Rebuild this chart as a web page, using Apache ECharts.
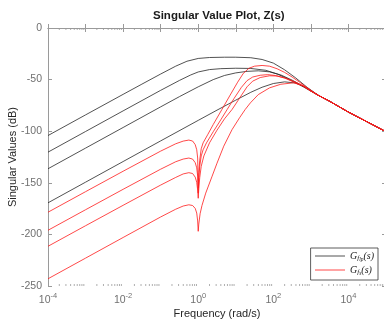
<!DOCTYPE html>
<html><head><meta charset="utf-8">
<script src="https://cdn.jsdelivr.net/npm/echarts@6/dist/echarts.min.js"></script>
<style>html,body{margin:0;padding:0;background:#fff}#c{width:384px;height:322px}</style>
</head><body><div id="c"></div>
<script>
// Data: log10(frequency) and singular value (dB)
const b1x = [-4,-3,-2,-1.5,-1,-0.6,-0.3,0,0.3,0.7,1.0,1.4,1.7,2.0,2.3,2.6,2.9,3.2,3.5,4,4.5,5];
const b1y = [-104.2,-84.2,-64.3,-54.4,-44.6,-37.0,-32.2,-29.5,-28.6,-28.3,-28.3,-28.8,-30.5,-34.0,-40.5,-48.5,-57.5,-65.3,-71,-81.5,-91,-100.5];
const b2x = [-4,-3,-2,-1,-0.5,-0.2,0,0.3,0.6,1.0,1.4,1.8,2.1,2.4,2.7,3.0,3.2,3.5,4,4.5,5];
const b2y = [-120.3,-100.3,-80.3,-60.4,-50.8,-45.5,-42.6,-40.3,-39.4,-39.0,-39.2,-41,-44.5,-49.5,-55,-61.2,-65.3,-71,-81.5,-91,-100.5];
const b3x = [-4,-3,-2,-1,-0.5,0,0.4,0.7,1.0,1.3,1.6,1.9,2.2,2.5,2.8,3.0,3.2,3.5,4,4.5,5];
const b3y = [-136.4,-116.4,-96.4,-76.4,-66.5,-57,-50,-46,-43.5,-42,-41.5,-42.5,-45.5,-50.5,-56.5,-61,-65.3,-71,-81.5,-91,-100.5];
const b4x = [-4,-3,-2,-1,0,0.5,1.0,1.4,1.7,2.0,2.3,2.6,2.9,3.2,3.5,4,4.5,5];
const b4y = [-169.4,-149.4,-129.4,-109.4,-89.5,-79.6,-69.9,-62.3,-57.4,-53.8,-52.2,-53.3,-58.3,-65.3,-71,-81.5,-91,-100.5];

const r1x = [-4,-3,-2,-1,-0.6,-0.4,-0.25,-0.15,-0.08,-0.04,-0.015,0,0.015,0.04,0.08,0.13,0.25,0.4,0.63,0.85,1.05,1.2,1.35,1.5,1.7,1.9,2.1,2.3,2.5,2.7,2.9,3.2,3.5,4,4.5,5];
const r1y = [-178.5,-158.6,-138.8,-119.3,-112.2,-109.6,-108.6,-109.5,-113,-118,-126,-155,-140,-128,-117,-111.3,-103.5,-93.5,-79,-65,-52.5,-44,-39,-37,-36.3,-37,-39.5,-43,-47.5,-52.5,-57.8,-65.3,-71,-81.5,-91,-100.5];
const r2x = [-4,-3,-2,-1,-0.6,-0.4,-0.25,-0.15,-0.08,-0.04,-0.015,0,0.015,0.04,0.08,0.13,0.22,0.4,0.6,0.77,0.95,1.15,1.3,1.45,1.65,1.85,2.05,2.3,2.55,2.8,3.0,3.2,3.5,4,4.5,5];
const r2y = [-196,-176.1,-156.3,-136.8,-129.6,-127,-126,-127,-130.5,-135.5,-143.5,-160,-146,-134,-124,-118,-111.3,-100.5,-89,-79,-68.5,-57.5,-51,-47.5,-45.8,-45.2,-46,-48.5,-52.5,-56.5,-61.2,-65.3,-71,-81.5,-91,-100.5];
const r3x = [-4,-3,-2,-1,-0.6,-0.4,-0.25,-0.15,-0.08,-0.04,-0.015,0,0.015,0.04,0.08,0.15,0.3,0.5,0.7,0.9,1.1,1.3,1.45,1.65,1.9,2.1,2.35,2.6,2.8,3.0,3.2,3.5,4,4.5,5];
const r3y = [-211.5,-191.6,-171.8,-152.2,-144.8,-141.4,-140.2,-141,-144.5,-149.5,-157,-165,-156,-145,-134,-124,-111.3,-99,-88,-79,-68,-57,-51.5,-48,-46.3,-46.5,-48.8,-52.5,-56.3,-61,-65.3,-71,-81.5,-91,-100.5];
const r4x = [-4,-3,-2,-1,-0.6,-0.4,-0.25,-0.15,-0.08,-0.04,-0.015,0,0.015,0.05,0.1,0.2,0.37,0.5,0.68,0.9,1.1,1.25,1.39,1.6,1.9,2.2,2.54,2.8,3.0,3.2,3.5,4,4.5,5];
const r4y = [-243,-223,-203,-183.1,-175.6,-172.5,-171.3,-172,-174.8,-179.3,-187,-197,-190,-180,-172,-160,-143.6,-131,-114.5,-98.5,-87,-79,-72.5,-64.5,-58,-54.5,-53.1,-56,-61,-65.3,-71,-81.5,-91,-100.5];

const yTicks = [-250,-200,-150,-100,-50,0];
const decades = [-4,-3,-2,-1,0,1,2,3,4];
const minorMult = [2,3,4,5,6,7,8,9];
const legendNames = ['Gflp','Gfs'];

function pts(xs, ys){ return xs.map((e,i)=>[Math.pow(10,e), ys[i]]); }
const minorData = [];
decades.forEach(d=>minorMult.forEach(m=>minorData.push([m*Math.pow(10,d), -250])));

const FONT = 'Liberation Sans';
const black = '#262626', red = '#ff1a1a';
function lineSeries(name, color, data){
  return {type:'line', name, data, symbol:'none', smooth:false, clip:true,
    lineStyle:{color, width:0.8}, itemStyle:{color}, emphasis:{disabled:true}};
}
const chart = echarts.init(document.getElementById('c'), null, {renderer:'canvas'});
const axisGrey = '#9a9a9a';
chart.setOption({
  animation:false,
  backgroundColor:'#fff',
  title:{text:'Singular Value Plot, Z(s)', left:148, top:5,
    textStyle:{fontFamily:FONT, fontSize:11.5, fontWeight:'bold', color:'#1a1a1a'}},
  grid:{left:48, right:-2, top:28, bottom:36, outerBoundsMode:'none', containLabel:false},
  legend:{data:legendNames, orient:'vertical', right:6, bottom:42, itemWidth:30, itemHeight:8, itemGap:2,
    padding:[3,4,3,4], borderColor:'#333', borderWidth:0.8, backgroundColor:'#fff',
    itemStyle:{opacity:0, borderWidth:0}, lineStyle:{width:0.8},
    formatter:n=> n==='Gflp' ? '{g|G}{s|f}{ss|lp}{g|(s)}' : '{g|G}{s|f}{ss|s}{g|(s)}',
    textStyle:{color:'#222', rich:{
      g:{fontFamily:'Liberation Serif', fontStyle:'italic', fontSize:10, color:'#222'},
      s:{fontFamily:'Liberation Serif', fontStyle:'italic', fontSize:7, color:'#222', padding:[4,0,0,0]},
      ss:{fontFamily:'Liberation Serif', fontStyle:'italic', fontSize:5.5, color:'#222', padding:[8,0,0,0]}
    }}},
  xAxis:[{type:'log', logBase:10, min:1e-4, max:1e5, interval:1, position:'bottom',
      name:'Frequency (rad/s)', nameLocation:'middle', nameGap:22, nameMoveOverlap:false,
      nameTextStyle:{fontFamily:FONT, fontSize:11, color:'#262626'},
      axisLine:{show:true, lineStyle:{color:axisGrey, width:1}},
      axisTick:{show:true, inside:true, length:4, lineStyle:{color:axisGrey}},
      splitLine:{show:false}, minorTick:{show:false},
      axisLabel:{margin:6, hideOverlap:false, formatter:v=>{const e=Math.round(Math.log10(v)); return (e%2===0)?'{b|10}{e|'+e+'}':'';},
        rich:{b:{fontFamily:FONT, fontSize:10.5, color:'#707070'}, e:{fontFamily:FONT, fontSize:7.5, color:'#707070', padding:[0,0,8,0]}}}},
    {type:'log', logBase:10, min:1e-4, max:1e5, interval:1, position:'top',
      axisLine:{show:true, lineStyle:{color:axisGrey, width:1}},
      axisTick:{show:true, inside:true, length:4, lineStyle:{color:axisGrey}},
      axisLabel:{show:false}, splitLine:{show:false}}],
  yAxis:[{type:'value', min:-250, max:0, interval:50,
      name:'Singular Values (dB)', nameLocation:'middle', nameGap:30, nameMoveOverlap:false,
      nameTextStyle:{fontFamily:FONT, fontSize:11, color:'#262626'},
      axisLine:{show:true, lineStyle:{color:axisGrey, width:1}},
      axisTick:{show:true, inside:true, length:4, lineStyle:{color:axisGrey}},
      splitLine:{show:false},
      axisLabel:{margin:6, fontFamily:FONT, fontSize:10.5, color:'#707070'}},
    {type:'value', min:-250, max:0, interval:50, position:'right',
      axisLine:{show:true, lineStyle:{color:axisGrey, width:1}},
      axisTick:{show:true, inside:true, length:4, lineStyle:{color:axisGrey}},
      axisLabel:{show:false}, splitLine:{show:false}}],
  series:[
    lineSeries('Gflp', black, pts(b1x,b1y)),
    lineSeries('Gflp', black, pts(b2x,b2y)),
    lineSeries('Gflp', black, pts(b3x,b3y)),
    lineSeries('Gflp', black, pts(b4x,b4y)),
    lineSeries('Gfs', red, pts(r1x,r1y)),
    lineSeries('Gfs', red, pts(r2x,r2y)),
    lineSeries('Gfs', red, pts(r3x,r3y)),
    lineSeries('Gfs', red, pts(r4x,r4y)),
    {type:'custom', name:'minorTicks', silent:true, clip:false, z:5, data:minorData,
      renderItem:(params, api)=>{
        const f = api.value(0);
        const pb = api.coord([f, -250]);
        const pt = api.coord([f, 0]);
        const st = {stroke:axisGrey, lineWidth:0.8};
        return {type:'group', children:[
          {type:'line', shape:{x1:pb[0], y1:pb[1], x2:pb[0], y2:pb[1]-2}, style:st},
          {type:'line', shape:{x1:pt[0], y1:pt[1], x2:pt[0], y2:pt[1]+2}, style:st}
        ]};
      }}
  ]
});
</script></body></html>
